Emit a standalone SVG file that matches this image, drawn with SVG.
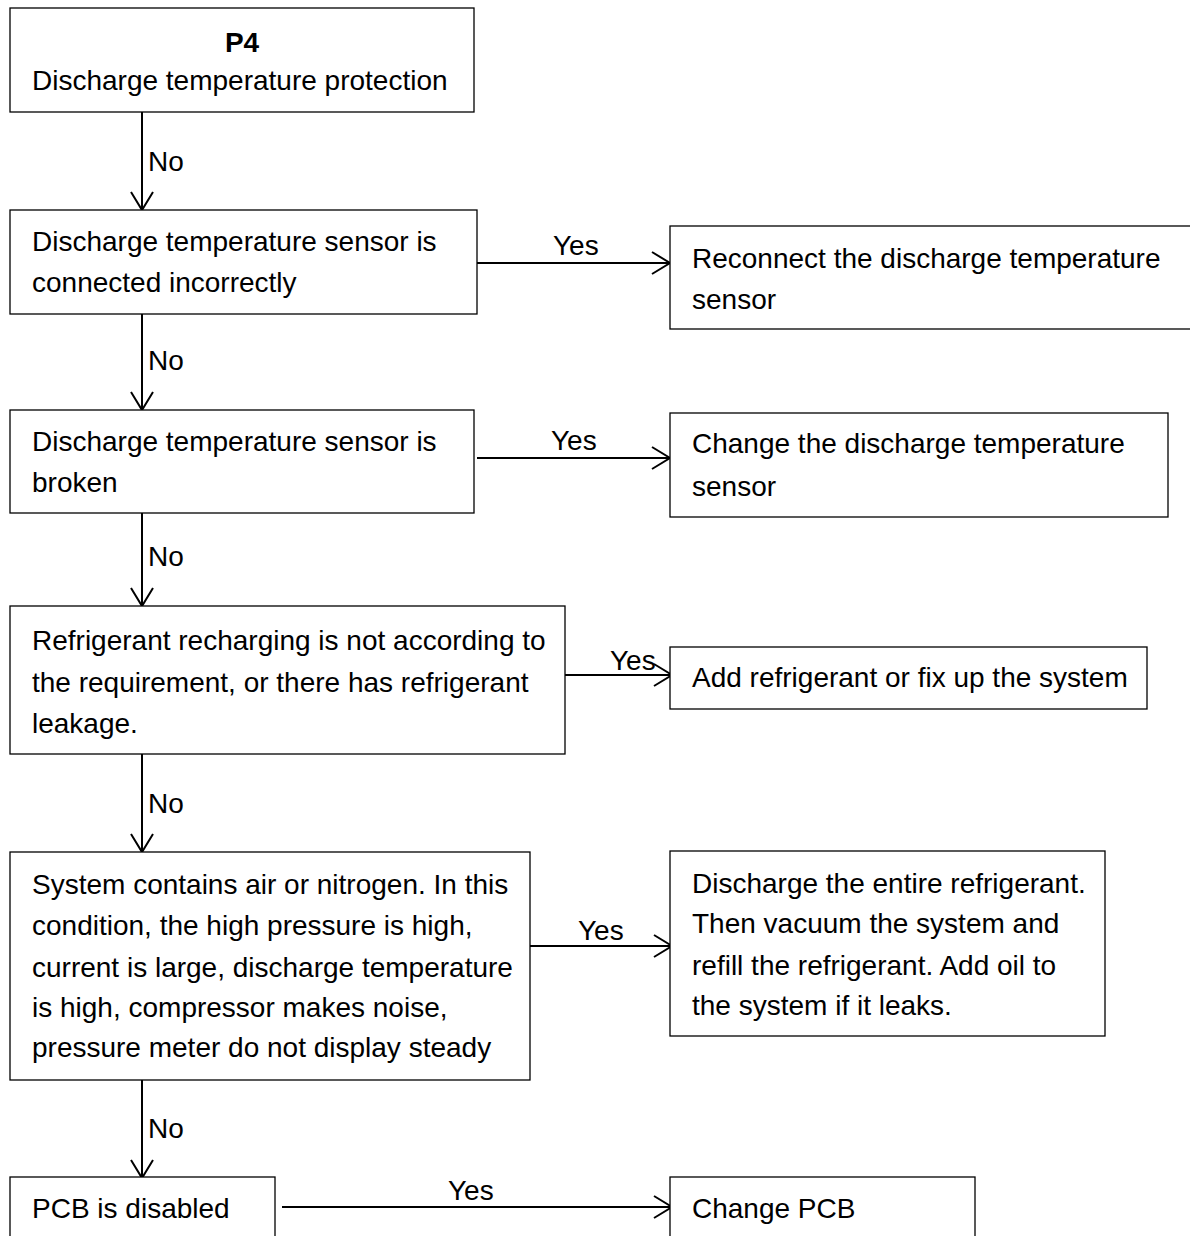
<svg xmlns="http://www.w3.org/2000/svg" width="1190" height="1236" viewBox="0 0 1190 1236">
<defs>
<style>
.box{fill:#fff;stroke:#000;stroke-width:1.3}
.t{font-family:"Liberation Sans",Arial,sans-serif;font-size:28px;fill:#000}
.b{font-weight:bold;text-anchor:middle}
.c{stroke:#000;stroke-width:2;fill:none}
</style>
<marker id="ah" markerWidth="22" markerHeight="26" refX="19" refY="12" orient="auto" markerUnits="userSpaceOnUse">
<polyline points="1,1 19,12 1,23" fill="none" stroke="#000" stroke-width="2"/>
</marker>
</defs>
<rect width="1190" height="1236" fill="#fff"/>
<g id="connectors">
<line class="c" x1="142" y1="112" x2="142" y2="210" marker-end="url(#ah)"/>
<text class="t" x="148" y="171">No</text>
<line class="c" x1="477" y1="263" x2="670" y2="263" marker-end="url(#ah)"/>
<text class="t" x="553" y="255">Yes</text>
<line class="c" x1="142" y1="314" x2="142" y2="410" marker-end="url(#ah)"/>
<text class="t" x="148" y="370">No</text>
<line class="c" x1="477" y1="458" x2="670" y2="458" marker-end="url(#ah)"/>
<text class="t" x="551" y="450">Yes</text>
<line class="c" x1="142" y1="510" x2="142" y2="606" marker-end="url(#ah)"/>
<text class="t" x="148" y="566">No</text>
<line class="c" x1="565" y1="675" x2="672" y2="675" marker-end="url(#ah)"/>
<text class="t" x="610" y="670">Yes</text>
<line class="c" x1="142" y1="754" x2="142" y2="852" marker-end="url(#ah)"/>
<text class="t" x="148" y="813">No</text>
<line class="c" x1="530" y1="946" x2="672" y2="946" marker-end="url(#ah)"/>
<text class="t" x="578" y="940">Yes</text>
<line class="c" x1="142" y1="1080" x2="142" y2="1178" marker-end="url(#ah)"/>
<text class="t" x="148" y="1138">No</text>
<line class="c" x1="282" y1="1207" x2="672" y2="1207" marker-end="url(#ah)"/>
<text class="t" x="448" y="1200">Yes</text>
</g>
<g id="n1">
<rect class="box" x="10" y="8" width="464" height="104"/>
<text class="t b" x="242" y="52">P4</text>
<text class="t" x="32" y="90">Discharge temperature protection</text>
</g>
<g id="n2">
<rect class="box" x="10" y="210" width="467" height="104"/>
<text class="t" x="32" y="251">Discharge temperature sensor is</text>
<text class="t" x="32" y="292">connected incorrectly</text>
</g>
<g id="n3">
<rect class="box" x="670" y="226" width="525" height="103"/>
<text class="t" x="692" y="268">Reconnect the discharge temperature</text>
<text class="t" x="692" y="309">sensor</text>
</g>
<g id="n4">
<rect class="box" x="10" y="410" width="464" height="103"/>
<text class="t" x="32" y="451">Discharge temperature sensor is</text>
<text class="t" x="32" y="492">broken</text>
</g>
<g id="n5">
<rect class="box" x="670" y="413" width="498" height="104"/>
<text class="t" x="692" y="453">Change the discharge temperature</text>
<text class="t" x="692" y="496">sensor</text>
</g>
<g id="n6">
<rect class="box" x="10" y="606" width="555" height="148"/>
<text class="t" x="32" y="650">Refrigerant recharging is not according to</text>
<text class="t" x="32" y="692">the requirement, or there has refrigerant</text>
<text class="t" x="32" y="733">leakage.</text>
</g>
<g id="n7">
<rect class="box" x="670" y="647" width="477" height="62"/>
<text class="t" x="692" y="687">Add refrigerant or fix up the system</text>
</g>
<g id="n8">
<rect class="box" x="10" y="852" width="520" height="228"/>
<text class="t" x="32" y="894">System contains air or nitrogen. In this</text>
<text class="t" x="32" y="935">condition, the high pressure is high,</text>
<text class="t" x="32" y="977">current is large, discharge temperature</text>
<text class="t" x="32" y="1017">is high, compressor makes noise,</text>
<text class="t" x="32" y="1057">pressure meter do not display steady</text>
</g>
<g id="n9">
<rect class="box" x="670" y="851" width="435" height="185"/>
<text class="t" x="692" y="893">Discharge the entire refrigerant.</text>
<text class="t" x="692" y="933">Then vacuum the system and</text>
<text class="t" x="692" y="975">refill the refrigerant. Add oil to</text>
<text class="t" x="692" y="1015">the system if it leaks.</text>
</g>
<g id="n10">
<rect class="box" x="10" y="1177" width="265" height="70"/>
<text class="t" x="32" y="1218">PCB is disabled</text>
</g>
<g id="n11">
<rect class="box" x="670" y="1177" width="305" height="70"/>
<text class="t" x="692" y="1218">Change PCB</text>
</g>
</svg>
